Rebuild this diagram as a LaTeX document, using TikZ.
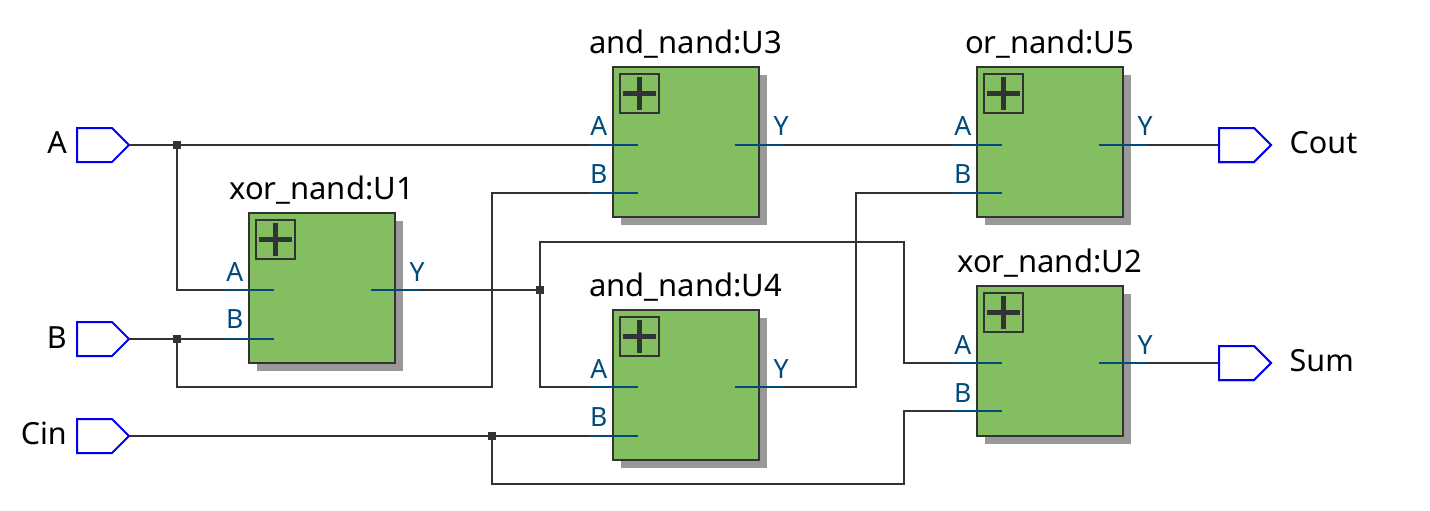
\documentclass[tikz,border=0pt]{standalone}
\usepackage{fontspec}
\setmainfont{Noto Sans}
\usetikzlibrary{shadows,calc}
\definecolor{blockgreen}{HTML}{83BF60}
\definecolor{wirec}{HTML}{333333}
\definecolor{portc}{HTML}{004A7C}
\definecolor{pinblue}{HTML}{0000F0}
\definecolor{shadowc}{HTML}{999999}
\tikzset{
  x=1pt,y=-1pt,
  blockbox/.style={draw=wirec,line width=2pt,fill=blockgreen,anchor=north west,inner sep=0pt,outer sep=0pt,minimum width=146pt,
    drop shadow={shadow xshift=8pt,shadow yshift=-8pt,fill=shadowc,opacity=1}},
  plusbox/.style={draw=wirec,line width=2pt,anchor=north west,inner sep=0pt,outer sep=0pt,minimum width=39pt,minimum height=39pt},
  plusmark/.style={draw=wirec,line width=4.5pt},
  wire/.style={draw=wirec,line width=2pt},
  stub/.style={draw=portc,line width=2pt},
  dot/.style={fill=wirec,draw=none,inner sep=0pt,outer sep=0pt,minimum size=8pt,rectangle},
  pinshape/.style={draw=pinblue,line width=2pt,line join=miter,fill=white},
  title/.style={font=\fontsize{31}{32}\selectfont,text=black,anchor=base,inner sep=0pt},
  portlabel/.style={font=\fontsize{26.5}{28}\selectfont,text=portc,inner sep=0pt},
  pinlabel/.style={font=\fontsize{30.5}{32}\selectfont,text=black,inner sep=0pt},
}
% name, left, top, height, title, A offset, B offset, A/Y label lift, B label lift
\newcommand{\hblock}[9]{%
  \node[blockbox,minimum height=#4pt] (#1) at (#2,#3) {};
  \node[plusbox] (#1plus) at ($(#1.north west)+(7,7)$) {};
  \draw[plusmark] ($(#1plus.center)+(-16.5,0)$) -- ($(#1plus.center)+(16.5,0)$);
  \draw[plusmark] ($(#1plus.center)+(0,-16.5)$) -- ($(#1plus.center)+(0,16.5)$);
  \node[title] (#1title) at ($(#1.north west)+(72.5,-13.3)$) {#5};
  \coordinate (#1Ain) at ($(#1.north west)+(24.5,#6)$);
  \coordinate (#1Bin) at ($(#1.north west)+(24.5,#7)$);
  \coordinate (#1Yin) at ($(#1.north west)+(121.5,#6)$);
  \coordinate (#1Ast) at ($(#1.north west)+(-24,#6)$);
  \coordinate (#1Bst) at ($(#1.north west)+(-24,#7)$);
  \coordinate (#1Yst) at ($(#1.north west)+(171,#6)$);
  \node[portlabel,anchor=base east] (#1Al) at ($(#1.north west)+(-5.5,#6-#8)$) {A};
  \node[portlabel,anchor=base east] (#1Bl) at ($(#1.north west)+(-5.5,#7-#9)$) {B};
  \node[portlabel,anchor=base west] (#1Yl) at ($(#1.north west)+(160.5,#6-#8)$) {Y};
}
\newcommand{\hstubs}[1]{%
  \draw[stub] (#1Ast) -- (#1Ain);
  \draw[stub] (#1Bst) -- (#1Bin);
  \draw[stub] (#1Yin) -- (#1Yst);
}
% name, tip x, y
\newcommand{\hpin}[3]{%
  \coordinate (#1) at (#2,#3);
  \draw[pinshape] ($(#1)+(-52,-17)$) -- ($(#1)+(-17,-17)$) -- (#1) -- ($(#1)+(-17,17)$) -- ($(#1)+(-52,17)$) -- cycle;
}
\begin{document}
\begin{tikzpicture}
\useasboundingbox (0,0) rectangle (1430,511);
\fill[white] (0,0) rectangle (1430,511);

\hblock{U1}{249}{213}{150}{xor\_nand:U1}{77}{126}{9}{11}
\hblock{U3}{613}{67}{150}{and\_nand:U3}{78}{126}{10}{10}
\hblock{U5}{977}{67}{150}{or\_nand:U5}{78}{126}{10}{10}
\hblock{U4}{613}{310}{150}{and\_nand:U4}{77}{126}{9}{10}
\hblock{U2}{977}{286}{150}{xor\_nand:U2}{77}{125}{9}{9}

\hpin{pA}{129}{145}
\hpin{pB}{129}{339}
\hpin{pC}{129}{436}
\hpin{oC}{1271}{145}
\hpin{oS}{1271}{363}

\node[pinlabel,anchor=base east] (lA) at (67,153) {A};
\node[pinlabel,anchor=base east] (lB) at (67,348) {B};
\node[pinlabel,anchor=base east] (lC) at (67,444) {Cin};
\node[pinlabel,anchor=base west] (lO) at (1289.5,153) {Cout};
\node[pinlabel,anchor=base west] (lS) at (1289.5,371) {Sum};

\node[dot] (jA) at (177,145) {};
\node[dot] (jB) at (177,339) {};
\node[dot] (jC) at (492,436) {};
\node[dot] (jY) at (540,290) {};

\draw[wire] (pA) -- (jA) -- (U3Ain);
\draw[wire] (jA) |- (U1Ain);
\draw[wire] (pB) -- (jB) -- (U1Bin);
\draw[wire] (jB) |- (jC |- 0,387) -- (jC |- U3Bin) -- (U3Bin);
\draw[wire] (U1Yin) -- (jY);
\draw[wire] (jY) |- (U4Ain);
\draw[wire] (jY) |- (904,242) |- (U2Ain);
\draw[wire] (pC) -- (jC) -- (U4Bin);
\draw[wire] (jC) |- (904,484) |- (U2Bin);
\draw[wire] (U3Yin) -- (U5Ain);
\draw[wire] (U4Yin) -| (856,193) -- (U5Bin);
\draw[wire] (U5Yin) -- (oC);
\draw[wire] (U2Yin) -- (oS);

\hpin{oC}{1271}{145}
\hpin{oS}{1271}{363}
\hstubs{U1}\hstubs{U3}\hstubs{U5}\hstubs{U4}\hstubs{U2}
\end{tikzpicture}
\end{document}
